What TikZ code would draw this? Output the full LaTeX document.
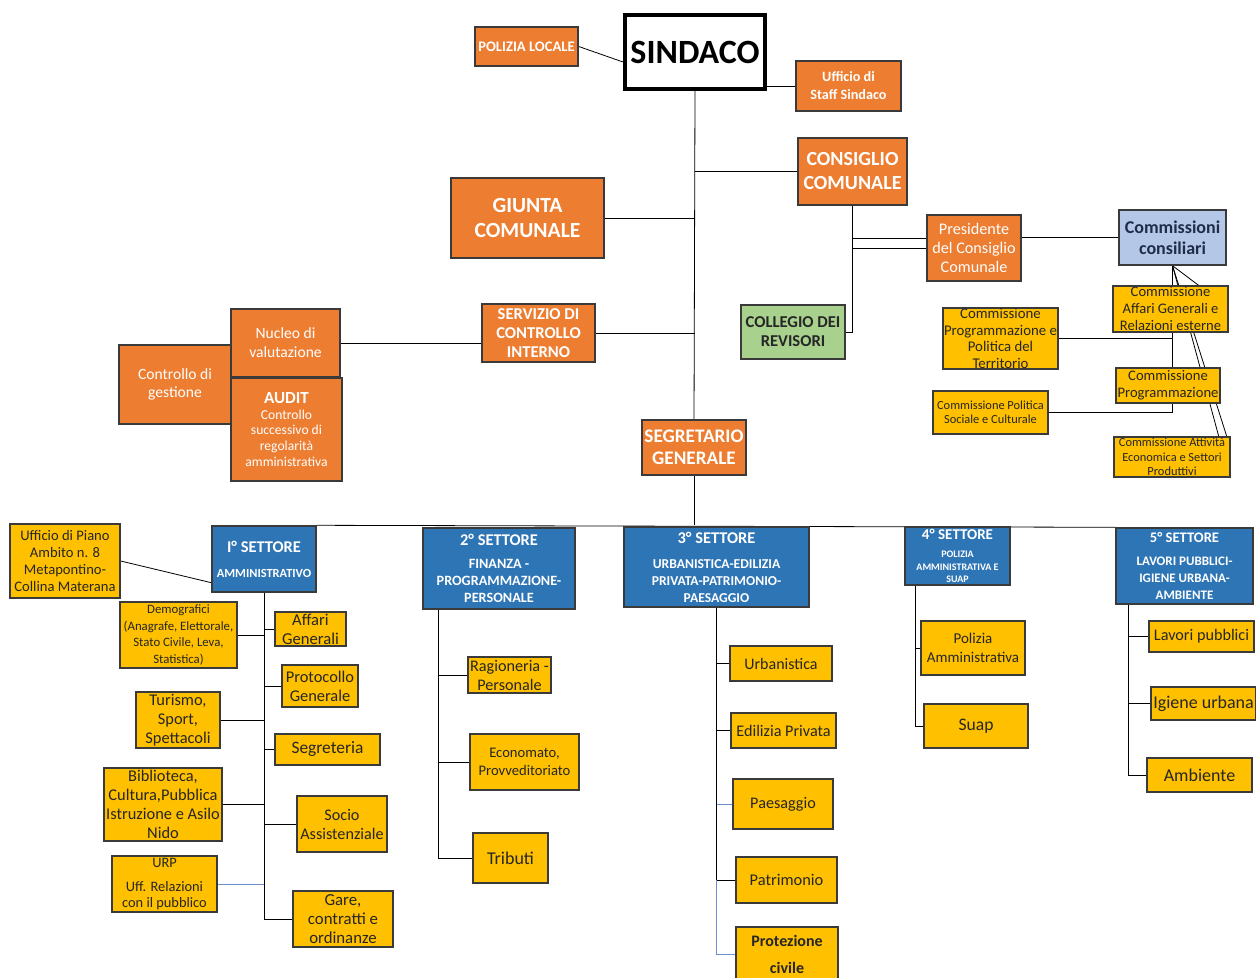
\documentclass[tikz,border=0pt]{standalone}
\usepackage{fontspec}
\setmainfont{Carlito}
\usetikzlibrary{backgrounds,calc}

\definecolor{arancio}{HTML}{ED7D31}
\definecolor{oro}{HTML}{FFC000}
\definecolor{blu}{HTML}{2E75B6}
\definecolor{verde}{HTML}{A9D18E}
\definecolor{celeste}{HTML}{B4C7E7}
\definecolor{linea}{HTML}{3A3A3A}
\definecolor{blulinea}{HTML}{6E8FCF}
\definecolor{testo}{HTML}{262626}
\definecolor{notte}{HTML}{1F2D4A}

\newcommand{\corpo}[2]{\fontsize{#1}{#2}\selectfont}

\tikzset{
  ufficio/.style={draw=linea, line width=0.7pt, inner sep=0pt, align=center},
  arancione/.style={ufficio, fill=arancio, text=white},
  giallo/.style={ufficio, fill=oro, text=testo},
  settore/.style={ufficio, fill=blu, text=white},
  collega/.style={color=linea, line width=0.75pt},
  posto/.style args={#1,#2,#3,#4}{minimum width={(#3-#1)*0.5pt}, minimum height={(#4-#2)*0.5pt}, at={({(#1+#3)/2},{(#2+#4)/2})}},
}

\begin{document}
\begin{tikzpicture}[x=0.5pt, y=-0.5pt]
    \useasboundingbox (0,0) rectangle (1256,978);

    % vertice
    \node[ufficio, fill=white, draw=black, line width=2pt, font=\bfseries\corpo{17}{20}, posto={625,15,765,89}] (sindaco) {SINDACO};
    \node[arancione, font=\bfseries\corpo{7.3}{8.5}, posto={475,27,578,66}] (polizia) {POLIZIA LOCALE};
    \node[arancione, font=\bfseries\corpo{7.1}{9}, posto={796,61,901,111}] (staff) {Ufficio di\\Staff Sindaco};
    \node[arancione, font=\bfseries\corpo{10}{12}, posto={798,138,907,205}] (consiglio) {CONSIGLIO\\COMUNALE};
    \node[arancione, font=\bfseries\corpo{10.8}{12.5}, posto={451,178,604,258}] (giunta) {GIUNTA\\COMUNALE};
    \node[arancione, font=\corpo{8.1}{9.5}, posto={927,215,1021,281}] (presidente) {Presidente\\del Consiglio\\Comunale};
    \node[ufficio, fill=verde, text=testo, font=\bfseries\corpo{8.3}{9.5}, posto={741,305,845,359}] (collegio) {COLLEGIO DEI\\REVISORI};
    \node[arancione, font=\bfseries\corpo{8.3}{9.5}, posto={482,304,595,362}] (servizio) {SERVIZIO DI\\CONTROLLO\\INTERNO};
    \node[arancione, font=\corpo{7.8}{9.5}, posto={231,309,340,377}] (nucleo) {Nucleo di\\valutazione};
    \node[arancione, font=\corpo{7.8}{8.8}, posto={119,345,231,424}] (gestione) {Controllo di\\gestione};
    \node[arancione, font=\corpo{6.8}{7.8}, posto={231,378,342,481}] (audit) {{\bfseries\corpo{8.5}{8.5}AUDIT}\\Controllo\\successivo di\\regolarità\\amministrativa};
    \node[arancione, font=\bfseries\corpo{9.6}{11}, posto={642,420,746,475}] (segretario) {SEGRETARIO\\GENERALE};

    % commissioni consiliari
    \node[ufficio, fill=celeste, text=notte, font=\bfseries\corpo{9}{10.5}, posto={1119,210,1226,265}] (commissioni) {Commissioni\\consiliari};
    \node[giallo, font=\corpo{7.3}{8.5}, posto={1113,286,1228,332}] (affari) {Commissione\\Affari Generali e\\Relazioni esterne};
    \node[giallo, font=\corpo{7.4}{8.3}, posto={943,308,1058,369}] (progterr) {Commissione\\Programmazione e\\Politica del\\Territorio};
    \node[giallo, font=\corpo{7.3}{8.5}, posto={1116,368,1220,403}] (progr) {Commissione\\Programmazione};
    \node[giallo, font=\corpo{6.2}{7}, posto={933,391,1048,434}] (polsoc) {Commissione Politica\\Sociale e Culturale};
    \node[giallo, font=\corpo{6.2}{7.2}, posto={1114,437,1230,477}] (attivita) {Commissione Attività\\Economica e Settori\\Produttivi};

    % settori
    \node[settore, font=\bfseries\corpo{6.2}{8.5}, posto={212,526,316,592}] (set1) {{\corpo{8.2}{8.5}I° SETTORE}\\[4pt]AMMINISTRATIVO};
    \node[settore, font=\bfseries\corpo{7.1}{8.5}, posto={423,528,575,609}] (set2) {{\corpo{8.2}{8.5}2° SETTORE}\\[3pt]FINANZA -\\PROGRAMMAZIONE-\\PERSONALE};
    \node[settore, font=\bfseries\corpo{6.8}{8.5}, posto={624,527,809,607}] (set3) {{\corpo{8.2}{8.5}3° SETTORE}\\[4pt]URBANISTICA-EDILIZIA\\PRIVATA-PATRIMONIO-\\PAESAGGIO};
    \node[settore, font=\bfseries\corpo{5}{6.2}, posto={905,527,1010,585}] (set4) {{\corpo{7.5}{7.5}4° SETTORE}\\[3pt]POLIZIA\\AMMINISTRATIVA E\\SUAP};
    \node[settore, font=\bfseries\corpo{6.5}{8.5}, posto={1116,528,1253,604}] (set5) {{\corpo{7.3}{8}5° SETTORE}\\[3pt]LAVORI PUBBLICI-\\IGIENE URBANA-\\AMBIENTE};

    % uffici del 1° settore
    \node[giallo, font=\corpo{7.3}{8.6}, posto={10,524,120,598}] (piano) {Ufficio di Piano\\Ambito n. 8\\Metapontino-\\Collina Materana};
    \node[giallo, font=\corpo{8.3}{9.5}, posto={275,612,346,646}] (affgen) {Affari\\Generali};
    \node[giallo, font=\corpo{6.4}{8.2}, posto={120,602,237,668}] (demo) {Demografici\\(Anagrafe, Elettorale,\\Stato Civile, Leva,\\Statistica)};
    \node[giallo, font=\corpo{8.2}{9.5}, posto={282,665,358,707}] (proto) {Protocollo\\Generale};
    \node[giallo, font=\corpo{8.2}{9.5}, posto={136,692,220,748}] (turismo) {Turismo,\\Sport,\\Spettacoli};
    \node[giallo, font=\corpo{8.7}{9.5}, posto={275,734,380,765}] (segreteria) {Segreteria};
    \node[giallo, font=\corpo{8.2}{9.5}, posto={104,768,222,841}] (biblio) {Biblioteca,\\Cultura,Pubblica\\Istruzione e Asilo\\Nido};
    \node[giallo, font=\corpo{8.1}{9.5}, posto={297,796,387,852}] (socio) {Socio\\Assistenziale};
    \node[giallo, font=\corpo{7.2}{8}, posto={112,856,217,912}] (urp) {URP\\[4pt]Uff. Relazioni\\con il pubblico};
    \node[giallo, font=\corpo{8.4}{9.7}, posto={293,891,393,947}] (gare) {Gare,\\contratti e\\ordinanze};

    % uffici del 2° settore
    \node[giallo, font=\corpo{8.1}{9.5}, posto={468,657,551,693}] (ragioneria) {Ragioneria -\\Personale};
    \node[giallo, font=\corpo{7.3}{9}, posto={470,734,579,790}] (economato) {Economato,\\Provveditoriato};
    \node[giallo, font=\corpo{9}{10}, posto={473,833,548,883}] (tributi) {Tributi};

    % uffici del 3° settore
    \node[giallo, font=\corpo{8}{9}, posto={730,646,832,681}] (urbanistica) {Urbanistica};
    \node[giallo, font=\corpo{8.1}{9}, posto={731,713,836,748}] (edilizia) {Edilizia Privata};
    \node[giallo, font=\corpo{8.1}{9}, posto={733,779,833,829}] (paesaggio) {Paesaggio};
    \node[giallo, font=\corpo{8.2}{9}, posto={736,857,837,903}] (patrimonio) {Patrimonio};
    \node[giallo, font=\bfseries\corpo{8}{13.5}, posto={736,927,838,982}] (protezione) {Protezione\\civile};

    % uffici del 4° e 5° settore
    \node[giallo, font=\corpo{7.5}{9.5}, posto={921,621,1025,675}] (polamm) {Polizia\\Amministrativa};
    \node[giallo, font=\corpo{8.8}{10}, posto={924,704,1028,748}] (suap) {Suap};
    \node[giallo, font=\corpo{8.1}{9}, posto={1149,621,1254,652}] (lavori) {Lavori pubblici};
    \node[giallo, font=\corpo{9}{10}, posto={1151,687,1256,720}] (igiene) {Igiene urbana};
    \node[giallo, font=\corpo{9}{10}, posto={1147,758,1252,792}] (ambiente) {Ambiente};

    \begin{scope}[on background layer, collega]
        % vertice
        \draw (sindaco.south) -- (segretario.north);
        \draw (polizia.east) -- ([yshift=-5pt]sindaco.west);
        \draw (staff.west) -- (staff.west -| sindaco.east);
        \draw (consiglio.west) -- (consiglio.west -| sindaco.south);
        \draw (giunta.east) -- (giunta.east -| sindaco.south);
        \draw (servizio.east) -- (servizio.east -| sindaco.south);
        \draw (nucleo.east) -- (nucleo.east -| servizio.west);

        % consiglio comunale
        \draw (consiglio.south) |- (collegio.east);
        \draw (presidente.west) -- (presidente.west -| consiglio.south);
        \draw ([yshift=5pt]presidente.west) -- ([yshift=5pt]presidente.west -| consiglio.south);
        \draw (commissioni.west -| presidente.east) -- (commissioni.west);
        \draw (commissioni.south) |- (polsoc.east);
        \draw (progterr.east) -- (progterr.east -| commissioni.south);
        \draw (commissioni.south) -- ([xshift=14pt]affari.north);
        \draw (commissioni.south) -- ([xshift=-6pt]attivita.north east);
        \draw (commissioni.south) -- ([xshift=-2pt]attivita.north east);

        % settori
        \draw (segretario.south) -- (segretario.south |- set1.north);
        \draw (set1.north east) -- (set5.north west);
        \draw (piano.east) -- ([yshift=5pt]set1.south west);

        \draw (set1.south) -- (set1.south |- gare.west);
        \draw (affgen.west) -- (affgen.west -| set1.south);
        \draw (demo.east) -- (demo.east -| set1.south);
        \draw (proto.west) -- (proto.west -| set1.south);
        \draw (turismo.east) -- (turismo.east -| set1.south);
        \draw (segreteria.west) -- (segreteria.west -| set1.south);
        \draw (biblio.east) -- (biblio.east -| set1.south);
        \draw (socio.west) -- (socio.west -| set1.south);
        \draw[blulinea] (urp.east) -- (urp.east -| set1.south);
        \draw (gare.west) -- (gare.west -| set1.south);

        \coordinate (t2) at ([xshift=8pt]set2.south west);
        \draw (t2) |- (tributi.west);
        \draw (ragioneria.west) -- (ragioneria.west -| t2);
        \draw (economato.west) -- (economato.west -| t2);

        \draw (set3.south) |- (patrimonio.west);
        \draw[blulinea] (patrimonio.west -| set3.south) |- (protezione.west);
        \draw (urbanistica.west) -- (urbanistica.west -| set3.south);
        \draw (edilizia.west) -- (edilizia.west -| set3.south);
        \draw[blulinea] (paesaggio.west) -- (paesaggio.west -| set3.south);

        \coordinate (t4) at ([xshift=5.5pt]set4.south west);
        \draw (t4) |- (suap.west);
        \draw (polamm.west) -- (polamm.west -| t4);

        \coordinate (t5) at ([xshift=6.5pt]set5.south west);
        \draw (t5) |- (ambiente.west);
        \draw (lavori.west) -- (lavori.west -| t5);
        \draw (igiene.west) -- (igiene.west -| t5);
    \end{scope}
\end{tikzpicture}
\end{document}
